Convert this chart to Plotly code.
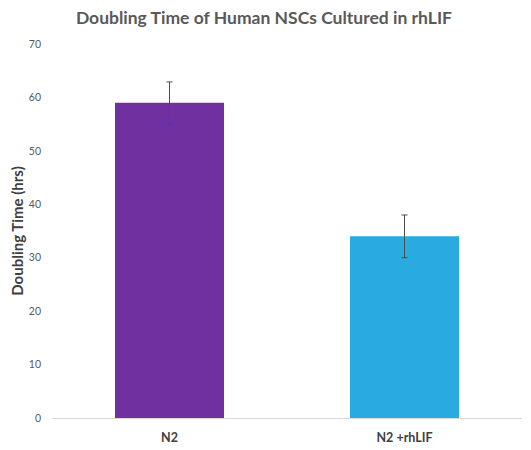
import plotly.graph_objects as go

# Data
groups = ["N2", "N2 +rhLIF"]
doubling_hrs = [59.0, 34.0]
error_hrs = [3.9, 4.0]
bar_colors = ["#7030A0", "#29ABE2"]
y_ticks = [0, 10, 20, 30, 40, 50, 60, 70]

fig = go.Figure()

fig.add_trace(go.Bar(
    x=groups,
    y=doubling_hrs,
    marker=dict(color=bar_colors, line=dict(width=0)),
    error_y=dict(type="data", array=error_hrs, visible=True,
                 color="#4d4d4d", thickness=1, width=3),
))

# page body has an 8px margin, so margins are shifted to compensate
fig.update_layout(
    width=531, height=450,
    margin=dict(l=44, r=17, t=36, b=40),
    paper_bgcolor="white", plot_bgcolor="white",
    bargap=0.536,
    showlegend=False,
    font=dict(family="Lato, Open Sans, sans-serif", color="#595959"),
    title=dict(text="<b>Doubling Time of Human NSCs Cultured in rhLIF</b>",
               xref="container", x=0.482, xanchor="center",
               yref="container", y=0.978, yanchor="middle",
               font=dict(size=17.5, color="#595959")),
)

fig.update_xaxes(
    showline=True, linecolor="#d9d9d9", linewidth=1, automargin=False,
    ticks="", ticklabelstandoff=8,
    tickfont=dict(size=12.5, color="#404040", family="Lato, sans-serif"),
    tickprefix="<b>", ticksuffix="</b>",
)

fig.update_yaxes(
    range=[0, 70], tickvals=y_ticks, showgrid=False, zeroline=False,
    showline=False, ticks="", ticklabelstandoff=10, automargin=False,
    tickfont=dict(size=10.5, color="#595959"),
    title=dict(text="<b>Doubling Time (hrs)</b>", font=dict(size=15, color="#404040"),
               standoff=4),
)

fig.write_html("out.html")
